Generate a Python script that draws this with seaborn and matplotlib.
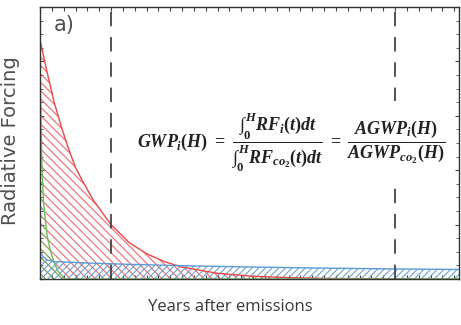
import numpy as np
import pandas as pd
import matplotlib
matplotlib.use("Agg")
import matplotlib.pyplot as plt
from matplotlib.ticker import MultipleLocator
import seaborn as sns

# ---- data (years, relative forcing) ----
t_red = [0, 2, 4, 6, 8, 10, 12, 15, 20, 25, 30, 35, 40, 50, 60, 70, 80, 100, 118]
rf_red = [0.88, 0.76, 0.65, 0.56, 0.48, 0.41, 0.36, 0.29, 0.20, 0.135, 0.093,
          0.064, 0.044, 0.021, 0.010, 0.005, 0.002, 0.0005, 0.0]

t_green = [0, 0.5, 1, 2, 3, 4, 5, 6, 7, 118]
rf_green = [0.77, 0.43, 0.28, 0.16, 0.10, 0.06, 0.03, 0.015, 0.0, 0.0]

t_blue = [0, 1, 2, 4, 8, 15, 25, 40, 60, 80, 100, 118]
rf_blue = [0.10, 0.08, 0.07, 0.064, 0.062, 0.058, 0.054, 0.049, 0.044, 0.040, 0.037, 0.035]

horizons = [20, 100]

red = "#e8474a"
green = "#6bbf59"
blue = "#5b9bd5"

sns.set_style("ticks")
plt.rcParams["hatch.linewidth"] = 0.8
plt.rcParams["mathtext.fontset"] = "custom"
plt.rcParams["mathtext.it"] = "Liberation Serif:italic:bold"
plt.rcParams["mathtext.rm"] = "Liberation Serif:bold"

fig = plt.figure(figsize=(4.61, 3.25), dpi=100)
ax = fig.add_axes([40 / 461, 46 / 325, 419 / 461, 272 / 325])

# hatched areas under each curve
ax.fill_between(t_red, rf_red, 0, facecolor="none", edgecolor=red,
                hatch="\\" * 4, linewidth=0, alpha=0.8)
ax.fill_between(t_green, rf_green, 0, facecolor="none", edgecolor=green,
                hatch="\\" * 4, linewidth=0, alpha=0.8)
ax.fill_between(t_blue, rf_blue, 0, facecolor="none", edgecolor=blue,
                hatch="/" * 5, linewidth=0, alpha=0.9)

df = pd.concat([
    pd.DataFrame({"t": t_red, "rf": rf_red, "gas": "red"}),
    pd.DataFrame({"t": t_green, "rf": rf_green, "gas": "green"}),
    pd.DataFrame({"t": t_blue, "rf": rf_blue, "gas": "blue"}),
])
sns.lineplot(data=df, x="t", y="rf", hue="gas", sort=False,
             palette={"red": red, "green": green, "blue": blue},
             linewidth=1.0, legend=False, ax=ax)

for h in horizons:
    ax.axvline(h, color="#444444", linewidth=1.3, dashes=(8, 6))

ax.set_xlim(0, 118)
ax.set_ylim(0, 1)
ax.xaxis.set_major_locator(MultipleLocator(10 / 3))
ax.yaxis.set_major_locator(MultipleLocator(0.2))
ax.yaxis.set_minor_locator(MultipleLocator(0.05))
ax.tick_params(which="both", direction="in", top=True, right=True,
               labelbottom=False, labelleft=False, color="#444444")
ax.tick_params(which="major", length=3)
ax.tick_params(which="minor", length=2)
for s in ax.spines.values():
    s.set_color("#333333")
    s.set_linewidth(1.0)

ax.set_xlabel("Years after emissions", fontsize=12, color="#383838",
              family="Open Sans")
ax.xaxis.set_label_coords(0.455, -0.075)
ax.set_ylabel("Radiative Forcing", fontsize=14, color="#505050",
              family="DejaVu Sans")
ax.yaxis.set_label_coords(-0.048, 0.51)

ax.text(0.033, 0.97, "a)", transform=ax.transAxes, fontsize=15,
        color="#505050", va="top", ha="left")

# the equation sits on a white box, so it hides the H=100 dashed line
formula = (r"$GWP_i(H)\ =\ \dfrac{\int_0^H RF_i(t)dt}{\int_0^H RF_{co_2}(t)dt}"
           r"\ =\ \dfrac{AGWP_i(H)}{AGWP_{co_2}(H)}$")
ax.text(0.60, 0.505, formula, transform=ax.transAxes, fontsize=13,
        color="#222222", ha="center", va="center", zorder=5,
        bbox=dict(facecolor="white", edgecolor="none", pad=6))

fig.savefig("out.png", dpi=100)
